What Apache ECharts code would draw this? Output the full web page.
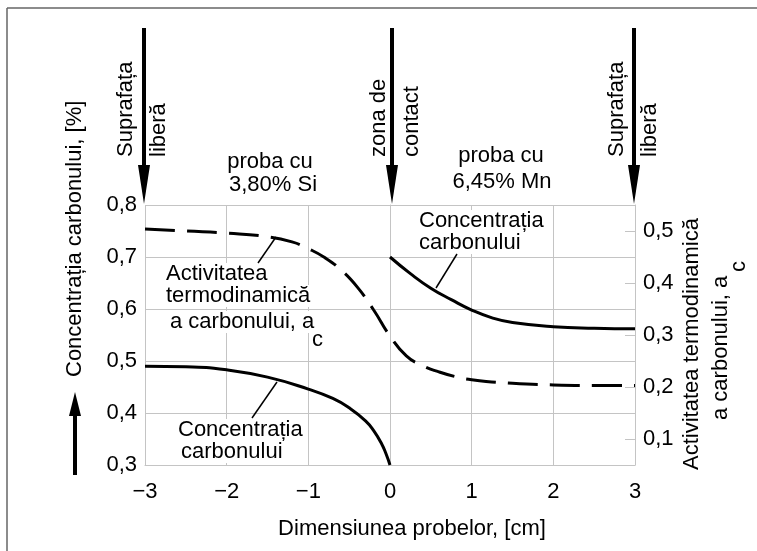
<!DOCTYPE html>
<html>
<head>
<meta charset="utf-8">
<script src="https://cdn.jsdelivr.net/npm/echarts@6/dist/echarts.min.js"></script>
<style>
html,body{margin:0;padding:0;background:#fff;}
#c{width:757px;height:551px;}
</style>
</head>
<body>
<div id="c"></div>
<script>
// Data
const xTicks = [-3, -2, -1, 0, 1, 2, 3];
const leftTicks = [0.3, 0.4, 0.5, 0.6, 0.7, 0.8];
const rightTicks = [0.1, 0.2, 0.3, 0.4, 0.5];

// Concentration of carbon, Si sample (left axis, %)
const concSiX = [-3, -2.5, -2, -1.5, -1, -0.7, -0.5, -0.3, -0.2, -0.1, -0.05, 0];
const concSiY = [0.49, 0.489, 0.483, 0.469, 0.446, 0.428, 0.41, 0.385, 0.366, 0.34, 0.322, 0.30];

// Concentration of carbon, Mn sample (left axis, %)
const concMnX = [0, 0.25, 0.5, 0.75, 1, 1.25, 1.5, 2, 2.5, 3];
const concMnY = [0.70, 0.668, 0.64, 0.618, 0.598, 0.583, 0.574, 0.566, 0.563, 0.562];

// Thermodynamic activity of carbon a_c (right axis)
const actX = [-3, -2.5, -2, -1.5, -1.2, -1, -0.8, -0.6, -0.4, -0.2, 0, 0.2, 0.4, 0.6, 0.8, 1, 1.5, 2, 2.5, 3];
const actY = [0.504, 0.500, 0.496, 0.489, 0.479, 0.466, 0.449, 0.425, 0.392, 0.348, 0.298, 0.260, 0.241, 0.229, 0.220, 0.214, 0.207, 0.204, 0.203, 0.203];

const FONT = '"Liberation Sans", Arial, Helvetica, sans-serif';
const zip = (xs, ys) => xs.map((x, i) => [x, ys[i]]);
const fmt = v => String(Number(v.toFixed(2))).replace('.', ',');
const GRID = '#c4c4c4';

const chart = echarts.init(document.getElementById('c'), null, {renderer: 'canvas'});

function txt(text, x, y, opts) {
  opts = opts || {};
  return {
    type: 'text', x: x, y: y, z: opts.z || 50,
    rotation: opts.rot ? Math.PI / 2 : 0,
    style: {
      text: text,
      font: (opts.size || 22) + 'px ' + FONT,
      fill: '#000',
      textAlign: opts.align || 'left', align: opts.align || 'left',
      textVerticalAlign: 'middle', verticalAlign: 'middle',
      backgroundColor: opts.bg ? '#fff' : undefined,
      padding: opts.bg ? [0, 2] : 0,
      lineHeight: 22
    }
  };
}
function line(x1, y1, x2, y2, w, color) {
  return {type: 'line', z: 60, shape: {x1: x1, y1: y1, x2: x2, y2: y2},
    style: {stroke: color || '#000', lineWidth: w || 1.5}};
}
function downArrow(x) {
  return [
    line(x, 28, x, 172, 4),
    {type: 'polygon', z: 60, shape: {points: [[x - 6, 165], [x + 6, 165], [x, 204]]}, style: {fill: '#000'}}
  ];
}

const graphics = [
  // frame
  line(7, 8, 757, 8, 1.5, '#666'),
  line(7, 8, 7, 551, 1.5, '#666'),
  // top arrows
  ...downArrow(144), ...downArrow(392), ...downArrow(634),
  txt('Suprafața', 126, 157, {rot: true}),
  txt('liberă', 159, 157, {rot: true}),
  txt('zona de', 379, 157, {rot: true}),
  txt('contact', 412, 157, {rot: true}),
  txt('Suprafața', 617, 157, {rot: true}),
  txt('liberă', 650, 157, {rot: true}),
  txt('proba cu', 270, 162, {align: 'center'}),
  txt('3,80% Si', 273, 185, {align: 'center'}),
  txt('proba cu', 501, 156, {align: 'center'}),
  txt('6,45% Mn', 502, 182, {align: 'center'}),
  // left axis name + up arrow
  txt('Concentrația carbonului, [%]', 75, 377, {rot: true}),
  line(75, 475, 75, 410, 4),
  {type: 'polygon', z: 60, shape: {points: [[69, 416], [81, 416], [75, 392]]}, style: {fill: '#000'}},
  // right axis name
  txt('Activitatea termodinamică', 692, 470, {rot: true}),
  txt('a carbonului, a', 721, 420, {rot: true}),
  txt('c', 739, 272, {rot: true}),
  // x axis name
  txt('Dimensiunea probelor, [cm]', 412, 529, {align: 'center'}),
  // annotations inside plot
  txt('Activitatea', 164, 274, {bg: true}),
  txt('termodinamică', 164, 296, {bg: true}),
  txt('a carbonului, a', 168, 322, {bg: true}),
  txt('c', 310, 340, {bg: true}),
  line(258, 263, 276, 237, 1.5),
  txt('Concentrația', 176, 430, {bg: true}),
  txt('carbonului', 179, 452, {bg: true}),
  line(252, 418, 277, 382, 1.5),
  txt('Concentrația', 417, 221, {bg: true}),
  txt('carbonului', 417, 243, {bg: true}),
  line(457, 254, 436, 288, 1.5)
];

const option = {
  animation: false,
  backgroundColor: '#fff',
  grid: {left: 145, right: 122, top: 205, bottom: 86, containLabel: false},
  xAxis: {
    type: 'value', min: xTicks[0], max: xTicks[xTicks.length - 1], interval: 1,
    axisLine: {show: true, onZero: false, lineStyle: {color: GRID, width: 1}},
    axisTick: {show: false},
    splitLine: {show: true, lineStyle: {color: GRID, width: 1}},
    axisLabel: {
      color: '#000', fontFamily: FONT, fontSize: 22, margin: 16,
      formatter: v => String(v).replace('-', '\u2212')
    }
  },
  yAxis: [
    {
      type: 'value', min: leftTicks[0], max: leftTicks[leftTicks.length - 1], interval: 0.1,
      position: 'left',
      axisLine: {show: true, lineStyle: {color: GRID, width: 1}},
      axisTick: {show: false},
      splitLine: {show: true, lineStyle: {color: GRID, width: 1}},
      axisLabel: {color: '#000', fontFamily: FONT, fontSize: 22, margin: 8, formatter: fmt}
    },
    {
      type: 'value', min: 0.05, max: 0.55, interval: 0.05,
      position: 'right',
      axisLine: {show: true, lineStyle: {color: GRID, width: 1}},
      axisTick: {show: true, inside: true, length: 10, customValues: rightTicks, lineStyle: {color: GRID, width: 1}},
      splitLine: {show: false},
      axisLabel: {color: '#000', fontFamily: FONT, fontSize: 22, margin: 8, customValues: rightTicks, formatter: fmt}
    }
  ],
  series: [
    {
      name: 'Concentrația carbonului (Si)', type: 'line', yAxisIndex: 0,
      data: zip(concSiX, concSiY), smooth: 0.5, symbol: 'none', z: 10,
      lineStyle: {color: '#000', width: 3}
    },
    {
      name: 'Concentrația carbonului (Mn)', type: 'line', yAxisIndex: 0,
      data: zip(concMnX, concMnY), smooth: 0.5, symbol: 'none', z: 10,
      lineStyle: {color: '#000', width: 3}
    },
    {
      name: 'Activitatea termodinamică a_c', type: 'line', yAxisIndex: 1,
      data: zip(actX, actY), smooth: 0.5, symbol: 'none', z: 10,
      lineStyle: {color: '#000', width: 3, type: [30, 12]}
    }
  ],
  graphic: {elements: graphics}
};
chart.setOption(option);
</script>
</body>
</html>
